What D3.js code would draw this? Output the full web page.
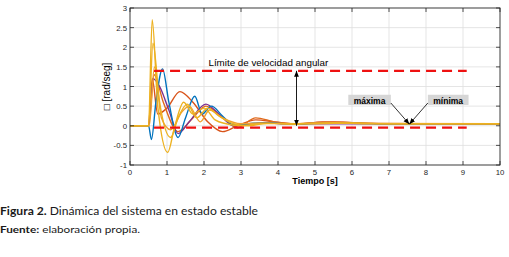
<!DOCTYPE html>
<html>
<head>
<meta charset="utf-8">
<script src="https://cdn.jsdelivr.net/npm/d3@7"></script>
<style>
  body { margin: 0; background: #fff; }
  svg { display: block; }
</style>
</head>
<body>
<svg width="509" height="257"></svg>
<script>
// ticks
var xTicks = [0, 1, 2, 3, 4, 5, 6, 7, 8, 9, 10];
var yTicks = [-1, -0.5, 0, 0.5, 1, 1.5, 2, 2.5, 3];

// series: [time, value]
var serieAzul = [[0,0],[0.5,0],[0.58,-0.35],[0.7,0.6],[0.88,1.45],[1.05,0.6],[1.3,-0.3],[1.5,0.2],[1.75,0.75],[1.95,0.3],[2.2,0.5],[2.5,0.25],[2.8,0.02],[3.2,0.05],[3.6,0.08],[4.0,0.06],[4.5,0.04],[5,0.06],[6,0.06],[7,0.05],[8,0.05],[9,0.05],[10,0.05]];
var serieAmarilla = [[0,0],[0.5,0],[0.6,2.7],[0.75,0.5],[1.02,-0.68],[1.2,-0.05],[1.45,0.6],[1.7,0.3],[2.0,0.45],[2.3,0.15],[2.6,0.05],[3.0,0.0],[3.5,0.05],[4,0.06],[5,0.05],[6,0.07],[7,0.05],[8,0.05],[10,0.05]];
var serieAmarilla2 = [[0,0],[0.5,0],[0.62,2.1],[0.8,0.6],[1.1,-0.3],[1.3,0.2],[1.55,0.55],[1.8,0.2],[2.1,0.45],[2.4,0.25],[2.8,0.05],[3.2,0.0],[3.7,0.06],[4.5,0.04],[5.5,0.08],[6.5,0.05],[8,0.05],[10,0.05]];
var serieRoja = [[0,0],[0.5,0],[0.6,1.2],[0.75,0.3],[1.0,0.45],[1.35,0.87],[1.7,0.6],[2.1,0.1],[2.5,-0.15],[2.9,0.0],[3.4,0.15],[3.9,0.1],[4.5,0.04],[5.2,0.1],[6,0.08],[7,0.05],[8,0.05],[10,0.05]];
var serieMorada = [[0,0],[0.5,0],[0.62,1.2],[0.8,1.0],[1.05,0.4],[1.3,-0.2],[1.6,0.1],[2.05,0.55],[2.4,0.3],[2.8,0.0],[3.2,0.02],[3.6,0.08],[4.2,0.05],[5,0.05],[6,0.05],[8,0.05],[10,0.05]];
var serieNaranja = [[0,0],[0.5,0],[0.65,1.3],[0.9,0.6],[1.3,-0.15],[1.7,0.2],[2.05,0.5],[2.45,0.25],[2.9,-0.05],[3.4,0.2],[3.9,0.1],[4.5,0.05],[5.5,0.1],[6.5,0.06],[8,0.05],[10,0.05]];
var serieNaranja2 = [[0,0],[0.52,0],[0.66,1.5],[0.85,0.2],[1.1,-0.1],[1.4,0.35],[1.6,0.5],[1.9,0.1],[2.15,0.4],[2.5,0.2],[3.0,0.05],[3.5,0.07],[4.3,0.05],[5,0.07],[6,0.06],[10,0.05]];

var series = [
  {nombre: "roja", color: "#D95319", datos: serieRoja},
  {nombre: "naranja", color: "#E06A1C", datos: serieNaranja},
  {nombre: "morada", color: "#7E2F8E", datos: serieMorada},
  {nombre: "azul", color: "#0072BD", datos: serieAzul},
  {nombre: "naranja2", color: "#F0A030", datos: serieNaranja2},
  {nombre: "amarilla2", color: "#EDB120", datos: serieAmarilla2},
  {nombre: "amarilla", color: "#EDB120", datos: serieAmarilla}
];

// velocity limits
var limiteSuperior = [[0.65, 1.4], [9.1, 1.4]];
var limiteInferior = [[0.65, -0.05], [9.1, -0.05]];

var svg = d3.select("svg");
var margin = {left: 130, right: 9, top: 8, bottom: 92};
var width = 509 - margin.left - margin.right;
var height = 257 - margin.top - margin.bottom;

var x = d3.scaleLinear().domain([0, 10]).range([0, width]);
var y = d3.scaleLinear().domain([-1, 3]).range([height, 0]);

var defs = svg.append("defs");
defs.append("clipPath").attr("id", "clip")
  .append("rect").attr("width", width).attr("height", height);

defs.append("marker")
  .attr("id", "flecha")
  .attr("viewBox", "0 0 10 10")
  .attr("refX", 10).attr("refY", 5)
  .attr("markerUnits", "userSpaceOnUse")
  .attr("markerWidth", 6).attr("markerHeight", 6)
  .attr("orient", "auto-start-reverse")
  .append("path")
  .attr("d", "M0,1 L10,5 L0,9 Z")
  .attr("fill", "#000");

var g = svg.append("g").attr("transform", "translate(" + margin.left + "," + margin.top + ")");

// grid
g.append("g").selectAll("line").data(xTicks.slice(1, -1)).enter().append("line")
  .attr("x1", x).attr("x2", x).attr("y1", 0).attr("y2", height)
  .attr("stroke", "#dedede").attr("stroke-width", 0.8);
g.append("g").selectAll("line").data(yTicks.slice(1, -1)).enter().append("line")
  .attr("y1", y).attr("y2", y).attr("x1", 0).attr("x2", width)
  .attr("stroke", "#dedede").attr("stroke-width", 0.8);

// curves
var line = d3.line()
  .x(function (d) { return x(d[0]); })
  .y(function (d) { return y(d[1]); })
  .curve(d3.curveMonotoneX);

g.append("g").attr("clip-path", "url(#clip)")
  .selectAll("path").data(series).enter().append("path")
  .attr("d", function (d) { return line(d.datos); })
  .attr("fill", "none")
  .attr("stroke", function (d) { return d.color; })
  .attr("stroke-width", 1.4);

// dashed limits
var recta = d3.line().x(function (d) { return x(d[0]); }).y(function (d) { return y(d[1]); });
[limiteSuperior, limiteInferior].forEach(function (l) {
  g.append("path").attr("d", recta(l))
    .attr("stroke", "#EE1111").attr("stroke-width", 2.2)
    .attr("stroke-dasharray", "10,6").attr("fill", "none");
});

// double arrow at t = 4.5
g.append("line")
  .attr("x1", x(4.5)).attr("x2", x(4.5))
  .attr("y1", y(1.4)).attr("y2", y(0))
  .attr("stroke", "#000").attr("stroke-width", 0.9)
  .attr("marker-start", "url(#flecha)")
  .attr("marker-end", "url(#flecha)");

g.append("text")
  .attr("x", x(2.12)).attr("y", y(1.52))
  .attr("font-family", "Liberation Sans, Arial, sans-serif")
  .attr("font-size", 9.8)
  .text("Límite de velocidad angular");

// máxima / mínima labels
var punto = [7.55, 0.04];
var etiquetas = [
  {texto: "máxima", cx: 5.9, cw: 1.15, ax: 7.05},
  {texto: "mínima", cx: 8.05, cw: 1.1, ax: 8.05}
];
etiquetas.forEach(function (e) {
  g.append("rect")
    .attr("x", x(e.cx)).attr("y", y(0.79))
    .attr("width", x(e.cw)).attr("height", y(0) - y(0.26))
    .attr("fill", "#d6d6d6");
  g.append("text")
    .attr("x", x(e.cx + e.cw / 2)).attr("y", y(0.55))
    .attr("text-anchor", "middle")
    .attr("font-family", "Liberation Sans, Arial, sans-serif")
    .attr("font-size", 8.5).attr("font-weight", "bold")
    .text(e.texto);
  g.append("line")
    .attr("x1", x(e.ax)).attr("y1", y(0.58))
    .attr("x2", x(punto[0])).attr("y2", y(punto[1]))
    .attr("stroke", "#000").attr("stroke-width", 0.8)
    .attr("marker-end", "url(#flecha)");
});

// frame and ticks (inside, on all sides)
g.append("rect").attr("width", width).attr("height", height)
  .attr("fill", "none").attr("stroke", "#262626").attr("stroke-width", 0.9);

var tl = 4;
xTicks.forEach(function (t) {
  g.append("line").attr("x1", x(t)).attr("x2", x(t)).attr("y1", height).attr("y2", height - tl)
    .attr("stroke", "#262626").attr("stroke-width", 0.8);
  g.append("line").attr("x1", x(t)).attr("x2", x(t)).attr("y1", 0).attr("y2", tl)
    .attr("stroke", "#262626").attr("stroke-width", 0.8);
});
yTicks.forEach(function (t) {
  g.append("line").attr("y1", y(t)).attr("y2", y(t)).attr("x1", 0).attr("x2", tl)
    .attr("stroke", "#262626").attr("stroke-width", 0.8);
  g.append("line").attr("y1", y(t)).attr("y2", y(t)).attr("x1", width).attr("x2", width - tl)
    .attr("stroke", "#262626").attr("stroke-width", 0.8);
});

g.append("g").selectAll("text").data(xTicks).enter().append("text")
  .attr("x", x).attr("y", height + 10)
  .attr("text-anchor", "middle")
  .attr("font-family", "Liberation Sans, Arial, sans-serif").attr("font-size", 7.8)
  .attr("fill", "#262626")
  .text(function (d) { return d; });

g.append("g").selectAll("text").data(yTicks).enter().append("text")
  .attr("x", -3).attr("y", function (d) { return y(d) + 3; })
  .attr("text-anchor", "end")
  .attr("font-family", "Liberation Sans, Arial, sans-serif").attr("font-size", 7.8)
  .attr("fill", "#262626")
  .text(function (d) { return d; });

// axis titles
g.append("text")
  .attr("x", width / 2).attr("y", height + 19)
  .attr("text-anchor", "middle")
  .attr("font-family", "Liberation Sans, Arial, sans-serif").attr("font-size", 9)
  .attr("font-weight", "bold")
  .text("Tiempo [s]");

g.append("text")
  .attr("transform", "translate(-20," + (height / 2) + ") rotate(-90)")
  .attr("text-anchor", "middle")
  .attr("font-family", "Liberation Sans, Arial, sans-serif").attr("font-size", 10)
  .text("□  [rad/seg]");

// caption
var cap = svg.append("text").attr("x", 0).attr("y", 215)
  .attr("font-family", "Lato, 'Open Sans', sans-serif").attr("font-size", 11.5)
  .attr("fill", "#1a1a1a")
  .attr("textLength", 258).attr("lengthAdjust", "spacingAndGlyphs");
cap.append("tspan").attr("font-weight", "bold").text("Figura 2.");
cap.append("tspan").text(" Dinámica del sistema en estado estable");

var fuente = svg.append("text").attr("x", 0).attr("y", 233)
  .attr("font-family", "Lato, 'Open Sans', sans-serif").attr("font-size", 9.5)
  .attr("fill", "#1a1a1a")
  .attr("textLength", 140).attr("lengthAdjust", "spacingAndGlyphs");
fuente.append("tspan").attr("font-weight", "bold").text("Fuente:");
fuente.append("tspan").text(" elaboración propia.");
</script>
</body>
</html>
